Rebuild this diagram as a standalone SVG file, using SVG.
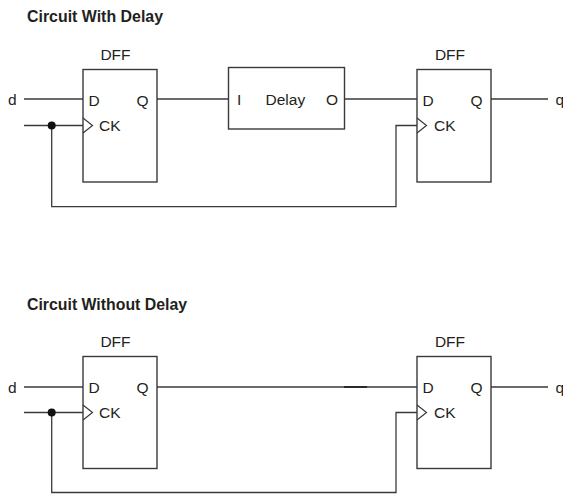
<svg xmlns="http://www.w3.org/2000/svg" width="563" height="494" viewBox="0 0 563 494">
<style>
.box{fill:#fff;stroke:#3a3a3a;stroke-width:1.4}
.w{fill:none;stroke:#3a3a3a;stroke-width:1.3}
.t{font-family:"Liberation Sans",Arial,sans-serif;font-size:15.5px;fill:#231f20}
.h{font-family:"Liberation Sans",Arial,sans-serif;font-size:16px;font-weight:bold;fill:#231f20}
.ck{fill:none;stroke:#3a3a3a;stroke-width:1.2}
</style>
<rect width="563" height="494" fill="#fff"/>
<text class="h" x="27" y="21.5" textLength="136" lengthAdjust="spacingAndGlyphs">Circuit With Delay</text>
<text class="h" x="27" y="309.5" textLength="160" lengthAdjust="spacingAndGlyphs">Circuit Without Delay</text>
<g id="connectors">
<path class="w" d="M24 99H83M24 125.5H83M51.7 125.5V206.7H396V125.5H417M157 99H229M345 99H417M491 99H548"/>
<path class="w" d="M24 387H83M24 412.5H83M51.7 412.5V492.5H396V412.5H417M157 387H417M491 387H548"/>
<path d="M344 387H367" stroke="#222" stroke-width="1.8"/>
<circle cx="51.7" cy="125.5" r="4" fill="#111"/>
<circle cx="51.7" cy="412.5" r="4" fill="#111"/>
</g>
<text class="t" x="8" y="105">d</text>
<text class="t" x="8" y="393">d</text>
<text class="t" x="555.5" y="105">q</text>
<text class="t" x="555.5" y="393">q</text>
<g id="dff1">
<rect class="box" x="83" y="69.5" width="74" height="112.5"/>
<path class="ck" d="M83 118L92.5 125.5L83 133"/>
<text class="t" x="115.5" y="60" text-anchor="middle">DFF</text>
<text class="t" x="88.5" y="106">D</text>
<text class="t" x="136.5" y="106">Q</text>
<text class="t" x="99" y="131">CK</text>
</g>
<g id="delay">
<rect class="box" x="228.5" y="67.5" width="116" height="61.5"/>
<text class="t" x="237" y="105">I</text>
<text class="t" x="265.5" y="105">Delay</text>
<text class="t" x="326" y="105">O</text>
</g>
<g id="dff2">
<rect class="box" x="417" y="69.5" width="74" height="112.5"/>
<path class="ck" d="M417 118L426.5 125.5L417 133"/>
<text class="t" x="450" y="60" text-anchor="middle">DFF</text>
<text class="t" x="422.5" y="106">D</text>
<text class="t" x="470.5" y="106">Q</text>
<text class="t" x="434" y="131">CK</text>
</g>
<g id="dff3">
<rect class="box" x="83" y="356.5" width="74" height="112"/>
<path class="ck" d="M83 405L92.5 412.5L83 420"/>
<text class="t" x="115.5" y="347" text-anchor="middle">DFF</text>
<text class="t" x="88.5" y="393">D</text>
<text class="t" x="136.5" y="393">Q</text>
<text class="t" x="99" y="418">CK</text>
</g>
<g id="dff4">
<rect class="box" x="417" y="356.5" width="74" height="112"/>
<path class="ck" d="M417 405L426.5 412.5L417 420"/>
<text class="t" x="450" y="347" text-anchor="middle">DFF</text>
<text class="t" x="422.5" y="393">D</text>
<text class="t" x="470.5" y="393">Q</text>
<text class="t" x="434" y="418">CK</text>
</g>
</svg>
